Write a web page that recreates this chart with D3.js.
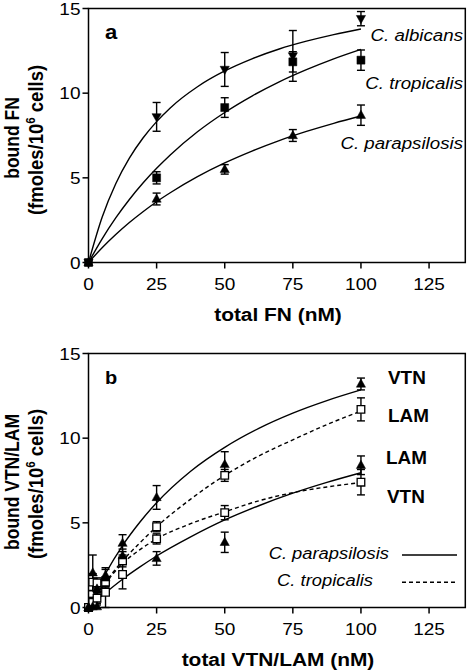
<!DOCTYPE html>
<html><head><meta charset="utf-8">
<script src="https://cdn.jsdelivr.net/npm/d3@7"></script>
<style>html,body{margin:0;padding:0;background:#fff}svg{display:block}</style>
</head><body>
<script>
// ---------- DATA ----------
const xTicks = [0, 25, 50, 75, 100, 125];
const yTicks = [0, 5, 10, 15];

// Panel a (FN)
const fnConc = [0, 25, 50, 75, 100];
const albicansFN = [0, 8.6, 11.4, 12.2, 14.4];
const albicansFNErr = [0, 0.85, 1.0, 1.5, 0.42];
const tropicalisFN = [0, 5.0, 9.15, 11.85, 11.95];
const tropicalisFNErr = [0, 0.36, 0.58, 0.6, 0.6];
const parapsilosisFN = [0, 3.75, 5.5, 7.5, 8.7];
const parapsilosisFNErr = [0, 0.35, 0.28, 0.35, 0.6];

const fnFitX = [0, 5, 10, 15, 20, 25, 30, 40, 50, 60, 70, 80, 90, 100];
const albicansFNFit = [0, 2.67, 4.65, 6.16, 7.35, 8.32, 9.13, 10.38, 11.31, 12.03, 12.61, 13.07, 13.46, 13.79];
const tropicalisFNFit = [0, 1.40, 2.63, 3.72, 4.69, 5.56, 6.35, 7.72, 8.86, 9.83, 10.67, 11.39, 12.03, 12.59];
const parapsilosisFNFit = [0, 0.87, 1.65, 2.36, 3.00, 3.59, 4.12, 5.07, 5.88, 6.58, 7.20, 7.74, 8.22, 8.65];
const fnLabels = ["C. albicans", "C. tropicalis", "C. parapsilosis"];

// Panel b (VTN / LAM)
const vlConc = [0, 1.5625, 3.125, 6.25, 12.5, 25, 50, 100];
const parapsilosisVTN = [0, 0.05, 1.1, 1.9, 3.8, 6.5, 8.45, 13.2];
const parapsilosisVTNErr = [0, 0.1, 0.2, 0.45, 0.5, 0.7, 0.75, 0.35];
const parapsilosisLAM = [0, 2.05, 0.05, 1.75, 3.05, 2.9, 3.85, 8.4];
const parapsilosisLAMErr = [0, 1.05, 0.1, 0.5, 0.4, 0.4, 0.6, 0.55];
const tropicalisLAM = [0, 1.5, 1.45, 1.5, 2.75, 4.77, 7.8, 11.7];
const tropicalisLAMErr = [0, 0.5, 0.3, 0.3, 0.35, 0.3, 0.35, 0.68];
const tropicalisVTN = [0, 0.3, 0.55, 0.9, 1.95, 4.05, 5.6, 7.4];
const tropicalisVTNErr = [0, 0.3, 0.3, 0.9, 0.85, 0.3, 0.42, 0.75];

const vlFitX = [0, 3.125, 6.25, 12.5, 18.75, 25, 37.5, 50, 62.5, 75, 87.5, 100];
const parapsilosisVTNFit = [0, 1.06, 2.01, 3.66, 5.02, 6.19, 8.05, 9.46, 10.58, 11.48, 12.22, 12.85];
const parapsilosisLAMFit = [0, 0.45, 0.87, 1.67, 2.38, 3.04, 4.17, 5.17, 6.01, 6.75, 7.39, 7.96];
const tropicalisLAMFit = [0, 0.8, 1.5, 2.75, 3.8, 4.77, 6.4, 7.8, 8.95, 9.9, 10.8, 11.6];
const tropicalisVTNFit = [0, 0.8, 1.45, 2.6, 3.4, 4.05, 4.95, 5.65, 6.3, 6.78, 7.12, 7.38];
const vlEndLabels = ["VTN", "LAM", "LAM", "VTN"];
const vlLegend = ["C. parapsilosis", "C. tropicalis"];

// ---------- DRAW ----------
const W = 472, H = 671;
const FONT = "'Liberation Sans', Arial, Helvetica, sans-serif";
const SX = 1.12; // horizontal text stretch of the original
const svg = d3.select("body").append("svg").attr("width", W).attr("height", H);

function txt(g, x, y, s, o = {}) {
  const t = g.append("text")
    .attr("transform", `translate(${x},${y}) scale(${o.sx || SX},1)`)
    .attr("font-family", FONT)
    .attr("font-size", o.size || 17)
    .attr("font-weight", o.bold ? "bold" : "normal")
    .attr("font-style", o.italic ? "italic" : "normal")
    .attr("text-anchor", o.anchor || "start")
    .attr("fill", "#000");
  t.text(s);
  return t;
}

const xScale = d3.scaleLinear().domain([0, 138.3]).range([88.5, 465.3]);

function panel(top, yLab1, yLab2, xLab, letter, letterSize, labCenterY) {
  const y = d3.scaleLinear().domain([0, 15]).range([top + 254, top]);
  const g = svg.append("g");
  g.append("rect").attr("x", xScale(0)).attr("y", y(15))
    .attr("width", xScale.range()[1] - xScale(0)).attr("height", y(0) - y(15))
    .attr("fill", "none").attr("stroke", "#000").attr("stroke-width", 1.5);
  xTicks.forEach(t => {
    g.append("line").attr("x1", xScale(t)).attr("x2", xScale(t))
      .attr("y1", y(0)).attr("y2", y(0) + 6).attr("stroke", "#000").attr("stroke-width", 1.5);
    txt(g, xScale(t), y(0) + 27.5, d3.format("d")(t), {anchor: "middle", size: 17});
  });
  yTicks.forEach(t => {
    g.append("line").attr("x1", xScale(0) - 6).attr("x2", xScale(0))
      .attr("y1", y(t)).attr("y2", y(t)).attr("stroke", "#000").attr("stroke-width", 1.5);
    txt(g, xScale(0) - 8, y(t) + 6, d3.format("d")(t), {anchor: "end", size: 17});
  });
  txt(g, 278, y(0) + 58, xLab, {anchor: "middle", size: 19, bold: true, sx: 1.1});
  g.append("text")
    .attr("transform", `translate(19,${labCenterY}) rotate(-90) scale(1,1.12)`)
    .attr("font-family", FONT).attr("font-size", 17.5).attr("font-weight", "bold")
    .attr("text-anchor", "middle").text(yLab1);
  const yl2 = g.append("text")
    .attr("transform", `translate(43,${labCenterY + 2}) rotate(-90) scale(1,1.12)`)
    .attr("font-family", FONT).attr("font-size", 18.5).attr("font-weight", "bold")
    .attr("text-anchor", "middle");
  yl2.append("tspan").text(yLab2[0]);
  yl2.append("tspan").attr("font-size", 11.5).attr("dy", -7.5).text(yLab2[1]);
  yl2.append("tspan").attr("dy", 7.5).text(yLab2[2]);
  txt(g, 105, top + 30, letter, {size: letterSize, bold: true, sx: 1.05});
  return {g, y};
}

const lineW = 1.4;
function drawCurve(g, y, xs, ys, dash) {
  const pts = xs.map((x, i) => [x, ys[i]]);
  g.append("path").datum(pts)
    .attr("d", d3.line().x(d => xScale(d[0])).y(d => y(d[1])).curve(d3.curveMonotoneX))
    .attr("fill", "none").attr("stroke", "#000").attr("stroke-width", lineW)
    .attr("stroke-dasharray", dash ? "4,3" : null);
}
function drawErr(g, y, xs, ys, es) {
  xs.forEach((x, i) => {
    if (!es[i]) return;
    const cx = xScale(x), y1 = y(ys[i] - es[i]), y2 = y(ys[i] + es[i]);
    g.append("line").attr("x1", cx).attr("x2", cx).attr("y1", y1).attr("y2", y2)
      .attr("stroke", "#000").attr("stroke-width", lineW);
    [y1, y2].forEach(yy => g.append("line").attr("x1", cx - 4).attr("x2", cx + 4)
      .attr("y1", yy).attr("y2", yy).attr("stroke", "#000").attr("stroke-width", lineW));
  });
}
const shapes = {
  up: "M0,-5L4.6,3.2L-4.6,3.2Z",
  down: "M0,5L4.6,-3.2L-4.6,-3.2Z",
  square: "M-4,-4H4V4H-4Z",
  osquare: "M-3.8,-3.8H3.8V3.8H-3.8Z"
};
function drawMarks(g, y, xs, ys, shape) {
  xs.forEach((x, i) => {
    g.append("path").attr("d", shapes[shape])
      .attr("transform", `translate(${xScale(x)},${y(ys[i])})`)
      .attr("fill", shape === "osquare" ? "#fff" : "#000")
      .attr("stroke", "#000").attr("stroke-width", shape === "osquare" ? 1.3 : 0.5);
  });
}

// ---- Panel a ----
const A = panel(8.5, "bound FN", ["(fmoles/10", "6", " cells)"], "total FN (nM)", "a", 21, 138);
drawCurve(A.g, A.y, fnFitX, albicansFNFit);
drawCurve(A.g, A.y, fnFitX, tropicalisFNFit);
drawCurve(A.g, A.y, fnFitX, parapsilosisFNFit);
drawErr(A.g, A.y, fnConc, albicansFN, albicansFNErr);
drawErr(A.g, A.y, fnConc, tropicalisFN, tropicalisFNErr);
drawErr(A.g, A.y, fnConc, parapsilosisFN, parapsilosisFNErr);
drawMarks(A.g, A.y, fnConc, parapsilosisFN, "up");
drawMarks(A.g, A.y, fnConc, tropicalisFN, "square");
drawMarks(A.g, A.y, fnConc, albicansFN, "down");
[40.5, 89, 149].forEach((yy, i) => txt(A.g, 463, yy, fnLabels[i], {anchor: "end", italic: true, size: 17, sx: 1.1}));

// ---- Panel b ----
const B = panel(353.5, "bound VTN/LAM", ["(fmoles/10", "6", " cells)"], "total VTN/LAM (nM)", "b", 19, 482);
drawCurve(B.g, B.y, vlFitX, parapsilosisVTNFit);
drawCurve(B.g, B.y, vlFitX, parapsilosisLAMFit);
drawCurve(B.g, B.y, vlFitX, tropicalisLAMFit, true);
drawCurve(B.g, B.y, vlFitX, tropicalisVTNFit, true);
drawErr(B.g, B.y, vlConc, tropicalisLAM, tropicalisLAMErr);
drawErr(B.g, B.y, vlConc, tropicalisVTN, tropicalisVTNErr);
drawErr(B.g, B.y, vlConc, parapsilosisVTN, parapsilosisVTNErr);
drawErr(B.g, B.y, vlConc, parapsilosisLAM, parapsilosisLAMErr);
drawMarks(B.g, B.y, vlConc, tropicalisLAM, "osquare");
drawMarks(B.g, B.y, vlConc, tropicalisVTN, "osquare");
drawMarks(B.g, B.y, vlConc, parapsilosisVTN, "up");
drawMarks(B.g, B.y, vlConc, parapsilosisLAM, "up");
[[388, 384], [388, 421.5], [386, 463.5], [387, 503]].forEach((p, i) =>
  txt(B.g, p[0], p[1], vlEndLabels[i], {size: 17.5, bold: true, sx: 1.08}));
txt(B.g, 389, 559, vlLegend[0], {anchor: "end", italic: true, size: 17, sx: 1.08});
txt(B.g, 373, 586, vlLegend[1], {anchor: "end", italic: true, size: 17, sx: 1.08});
B.g.append("line").attr("x1", 402).attr("x2", 457).attr("y1", 555).attr("y2", 555)
  .attr("stroke", "#000").attr("stroke-width", lineW);
B.g.append("line").attr("x1", 402).attr("x2", 457).attr("y1", 582.3).attr("y2", 582.3)
  .attr("stroke", "#000").attr("stroke-width", lineW).attr("stroke-dasharray", "4,3");
</script>
</body></html>
